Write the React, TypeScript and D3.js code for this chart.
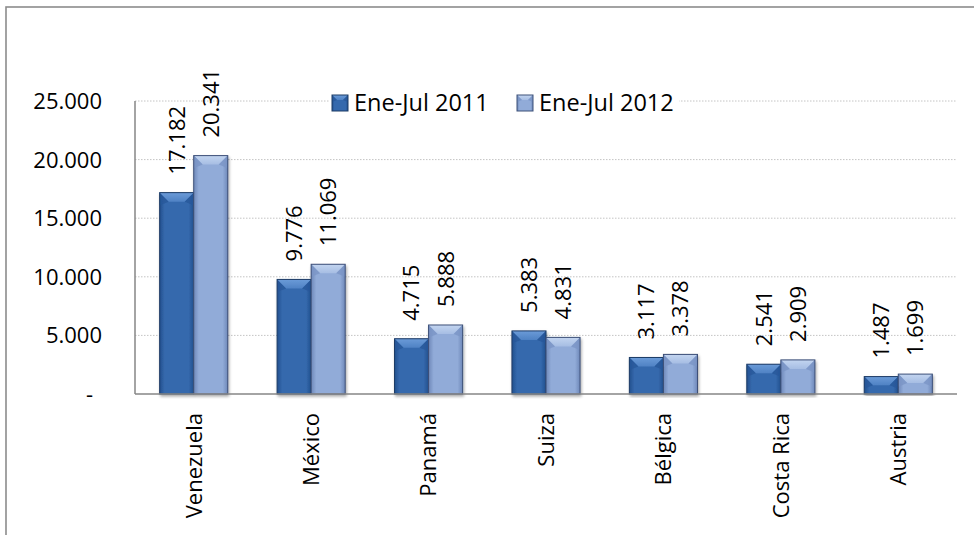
import React from 'react';
import * as d3 from 'd3';

const categories = ['Venezuela', 'México', 'Panamá', 'Suiza', 'Bélgica', 'Costa Rica', 'Austria'];
const values2011 = [17182, 9776, 4715, 5383, 3117, 2541, 1487];
const values2012 = [20341, 11069, 5888, 4831, 3378, 2909, 1699];
const seriesNames = ['Ene-Jul 2011', 'Ene-Jul 2012'];
const yTicks = [0, 5000, 10000, 15000, 20000, 25000];

const W = 974;
const H = 535;
const FONT = "'Open Sans', 'Liberation Sans', sans-serif";
const FS = 22;

const locale = d3.formatLocale({ decimal: ',', thousands: '.', grouping: [3], currency: ['', ''] });
const fmt = locale.format(',d');
const fmtTick = (v: number) => (v === 0 ? '-' : fmt(v));

const palettes = [
  { edge: '#22508e', mid: '#3569ad', top: '#6b9bd8', topDark: '#4f82c4', stroke: '#1d3c66', side: '#28589a' },
  { edge: '#6e88b9', mid: '#91abd8', top: '#c3d5f0', topDark: '#a6bde3', stroke: '#3d5078', side: '#7a95c6' },
];

function BevelBar({ x, y, w, h, s, d }: { x: number; y: number; w: number; h: number; s: number; d: number }) {
  const p = palettes[s];
  const dd = Math.min(d, h / 2, w / 2);
  return (
    <g>
      <rect x={x} y={y} width={w} height={h} fill={`url(#body${s})`} />
      <polygon
        points={`${x},${y} ${x + w},${y} ${x + w - dd},${y + dd} ${x + dd},${y + dd}`}
        fill={`url(#top${s})`}
      />
      <polygon points={`${x},${y} ${x + dd},${y + dd} ${x},${y + dd * 1.4}`} fill={p.side} opacity={0.8} />
      <polygon points={`${x + w},${y} ${x + w - dd},${y + dd} ${x + w},${y + dd * 1.4}`} fill={p.side} opacity={0.8} />
      <rect x={x} y={y} width={w} height={h} fill="none" stroke={p.stroke} strokeWidth={1} />
    </g>
  );
}

export default function App() {
  const x0 = 135, x1 = 957, yTop = 101, yBase = 394;
  const x = d3.scaleBand<string>().domain(categories).range([x0, x1]).paddingInner(0.42).paddingOuter(0.21);
  const xs = d3.scaleBand<string>().domain(seriesNames).range([0, x.bandwidth()]);
  const y = d3.scaleLinear().domain([0, 25000]).range([yBase, yTop]);
  const series = [values2011, values2012];

  return (
    <div style={{ position: 'absolute', left: 0, top: 0 }}>
      <svg width={W} height={H} style={{ display: 'block', background: '#fff' }} fontFamily={FONT}>
        <defs>
          {palettes.map((p, i) => (
            <React.Fragment key={i}>
              <linearGradient id={`body${i}`} x1="0" x2="1" y1="0" y2="0">
                <stop offset="0" stopColor={p.edge} />
                <stop offset="0.15" stopColor={p.mid} />
                <stop offset="0.85" stopColor={p.mid} />
                <stop offset="1" stopColor={p.edge} />
              </linearGradient>
              <linearGradient id={`top${i}`} x1="0" x2="0" y1="0" y2="1">
                <stop offset="0" stopColor={p.top} />
                <stop offset="1" stopColor={p.topDark} />
              </linearGradient>
            </React.Fragment>
          ))}
          <filter id="shadow" x="-20%" y="-5%" width="140%" height="115%">
            <feGaussianBlur in="SourceAlpha" stdDeviation="1.5" />
            <feOffset dx="1" dy="1.5" result="b" />
            <feComponentTransfer>
              <feFuncA type="linear" slope="0.35" />
            </feComponentTransfer>
            <feMerge>
              <feMergeNode />
              <feMergeNode in="SourceGraphic" />
            </feMerge>
          </filter>
        </defs>

        {/* outer frame */}
        <rect x={6} y={7} width={1200} height={1200} fill="none" stroke="#8c8c8c" strokeWidth={1.6} />

        {/* gridlines */}
        {yTicks.filter((t) => t > 0).map((t) => (
          <line key={t} x1={x0} x2={x1} y1={y(t)} y2={y(t)} stroke="#c4c4c4" strokeWidth={1} strokeDasharray="1.5,1.5" />
        ))}

        {/* y tick labels */}
        {yTicks.map((t) => (
          <text key={t} x={t === 0 ? 93 : 102} y={y(t)} dy="0.36em" textAnchor="end" fontSize={FS} fill="#000">
            {fmtTick(t)}
          </text>
        ))}

        {/* bars */}
        {categories.map((c, ci) => (
          <g key={c} filter="url(#shadow)">
            {series.map((vals, si) => {
              const bx = (x(c) as number) + (xs(seriesNames[si]) as number);
              const bw = xs.bandwidth();
              const by = y(vals[ci]);
              return <BevelBar key={si} x={bx} y={by} w={bw} h={yBase - by} s={si} d={9} />;
            })}
          </g>
        ))}

        {/* axes */}
        <line x1={x0} x2={x0} y1={yTop} y2={yBase} stroke="#868686" strokeWidth={1.5} />
        <line x1={x0} x2={x1} y1={yBase} y2={yBase} stroke="#868686" strokeWidth={1.5} />

        {/* data labels */}
        {categories.map((c, ci) =>
          series.map((vals, si) => {
            const cx = (x(c) as number) + (xs(seriesNames[si]) as number) + xs.bandwidth() / 2;
            const ty = y(vals[ci]) - 18;
            return (
              <text
                key={`${c}-${si}`}
                transform={`translate(${cx},${ty}) rotate(-90)`}
                dy="0.36em"
                textAnchor="start"
                fontSize={FS}
                fill="#000"
              >
                {fmt(vals[ci])}
              </text>
            );
          })
        )}

        {/* category labels */}
        {categories.map((c) => {
          const cx = (x(c) as number) + x.bandwidth() / 2;
          return (
            <text
              key={c}
              transform={`translate(${cx},${yBase + 19}) rotate(-90)`}
              dy="0.36em"
              textAnchor="end"
              fontSize={FS}
              fill="#000"
            >
              {c}
            </text>
          );
        })}

        {/* legend */}
        <rect x={329} y={88} width={350} height={30} fill="#fff" />
        {seriesNames.map((n, i) => {
          const lx = i === 0 ? 332 : 517;
          return (
            <g key={n}>
              <BevelBar x={lx} y={95} w={16} h={16} s={i} d={5} />
              <text x={lx + 22} y={103} dy="0.36em" fontSize={23.5} fill="#000">
                {n}
              </text>
            </g>
          );
        })}
      </svg>
    </div>
  );
}
